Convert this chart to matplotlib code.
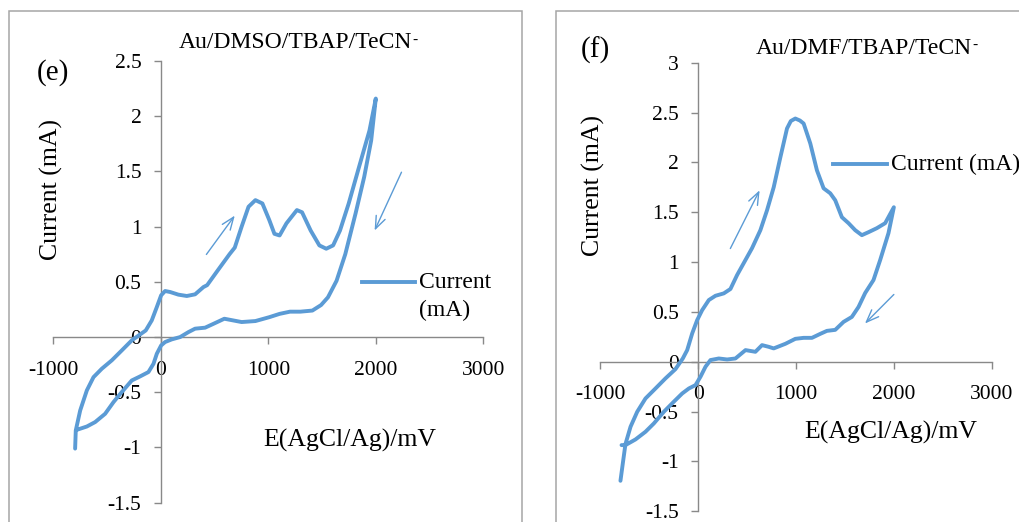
import matplotlib
matplotlib.use("Agg")
import matplotlib.pyplot as plt
from matplotlib.lines import Line2D
from matplotlib.patches import Rectangle
from matplotlib.ticker import FuncFormatter, MultipleLocator

plt.rcParams['font.family'] = ['Liberation Serif', 'DejaVu Serif']
plt.rcParams['axes.unicode_minus'] = False

# ---------------- data ----------------
series_label = "Current (mA)"
x_label = "E(AgCl/Ag)/mV"
y_label = "Current (mA)"

title_e = "Au/DMSO/TBAP/TeCN"
title_f = "Au/DMF/TBAP/TeCN"
title_sup = "-"
tag_e = "(e)"
tag_f = "(f)"

# panel (e): forward (upper) branch then return (lower) branch
e_fwd_x = [-797, -791, -750, -688, -626, -549, -456, -363, -270, -192, -140, -84, -37, 3, 40, 87,
           164, 242, 319, 397, 431, 527, 639, 688, 752, 816, 880, 945, 1009, 1057, 1105, 1169,
           1266, 1314, 1394, 1475, 1539, 1603, 1667, 1748, 1844, 1941, 2000]
e_fwd_y = [-1.01, -0.846, -0.665, -0.483, -0.363, -0.287, -0.211, -0.121, -0.03, 0.024, 0.06, 0.151,
           0.272, 0.378, 0.417, 0.408, 0.384, 0.372, 0.387, 0.453, 0.47, 0.60, 0.75, 0.81, 1.0,
           1.18, 1.24, 1.21, 1.06, 0.935, 0.92, 1.03, 1.15, 1.13, 0.965, 0.83, 0.80, 0.83, 0.965,
           1.21, 1.54, 1.87, 2.16]
e_rev_x = [1957, 1892, 1812, 1716, 1635, 1555, 1491, 1410, 1298, 1202, 1105, 1009, 880, 752, 591,
           490, 412, 319, 257, 180, 102, 40, 3, -37, -68, -115, -192, -270, -363, -440, -518, -611,
           -688, -781]
e_rev_y = [1.78, 1.45, 1.12, 0.75, 0.51, 0.36, 0.29, 0.24, 0.23, 0.23, 0.21, 0.18, 0.145, 0.136,
           0.166, 0.12, 0.085, 0.076, 0.045, 0.0, -0.021, -0.045, -0.076, -0.151, -0.242, -0.317,
           -0.356, -0.393, -0.498, -0.589, -0.695, -0.770, -0.810, -0.840]

# panel (f)
f_fwd_x = [-794, -770, -743, -691, -623, -538, -436, -334, -232, -157, -112, -61, -10, 41, 109, 177,
           262, 330, 398, 466, 551, 636, 704, 772, 840, 908, 947, 993, 1040, 1078, 1146, 1214, 1282,
           1350, 1401, 1469, 1537, 1605, 1673, 1741, 1826, 1911, 2000]
f_fwd_y = [-1.194, -1.02, -0.826, -0.652, -0.502, -0.368, -0.268, -0.167, -0.074, 0.033, 0.117,
           0.284, 0.418, 0.518, 0.619, 0.662, 0.686, 0.73, 0.87, 0.99, 1.14, 1.32, 1.52, 1.75, 2.05,
           2.34, 2.415, 2.44, 2.42, 2.39, 2.19, 1.92, 1.74, 1.69, 1.62, 1.45, 1.39, 1.32, 1.27,
           1.30, 1.34, 1.39, 1.55]
f_rev_x = [1945, 1860, 1792, 1707, 1639, 1571, 1486, 1401, 1316, 1248, 1163, 1078, 993, 891, 772,
           721, 653, 585, 484, 381, 296, 211, 126, 75, 24, -27, -95, -163, -249, -351, -453, -538,
           -640, -743, -783]
f_rev_y = [1.29, 1.02, 0.82, 0.69, 0.55, 0.45, 0.40, 0.32, 0.31, 0.28, 0.24, 0.24, 0.23, 0.18,
           0.134, 0.15, 0.167, 0.10, 0.117, 0.033, 0.023, 0.033, 0.017, -0.05, -0.15, -0.234,
           -0.268, -0.318, -0.401, -0.502, -0.619, -0.702, -0.779, -0.836, -0.836]

# direction arrows (tail -> head), data coordinates
e_arrows = [((424, 0.748), (688, 1.10)), ((2239, 1.493), (1989, 0.965))]
f_arrows = [((329, 1.136), (628, 1.72)), ((2000, 0.675), (1705, 0.384))]

x_ticks = [-1000, 0, 1000, 2000, 3000]
e_ylim = (-1.5, 2.5)
f_ylim = (-1.5, 3.0)

# ---------------- style ----------------
BLUE = '#5B9BD5'
AXC = '#898989'
W, H = 1019, 522


def fx(px):
    return px / W


def fy(py):
    return 1 - py / H


fig = plt.figure(figsize=(W / 100, H / 100), dpi=100)

# chart frames
fig.add_artist(Rectangle((fx(9), -0.05), fx(522.3) - fx(9), fy(11) + 0.05,
                         transform=fig.transFigure, fill=False, ec='#a6a6a6', lw=1.1))
fig.add_artist(Rectangle((fx(556), -0.05), 0.6, fy(11) + 0.05,
                         transform=fig.transFigure, fill=False, ec='#a6a6a6', lw=1.1))


def setup(ax, ylim):
    ax.set_xlim(-1000, 3000)
    ax.set_ylim(*ylim)
    ax.set_xticks(x_ticks)
    ax.yaxis.set_major_locator(MultipleLocator(0.5))
    ax.yaxis.set_major_formatter(FuncFormatter(lambda v, p: f"{v:g}"))
    ax.xaxis.set_major_formatter(FuncFormatter(lambda v, p: f"{v:g}"))
    for s in ['top', 'right']:
        ax.spines[s].set_visible(False)
    ax.spines['left'].set_position(('data', 0))
    ax.spines['bottom'].set_position(('data', 0))
    for s in ['left', 'bottom']:
        ax.spines[s].set_color(AXC)
        ax.spines[s].set_linewidth(1.0)
    ax.tick_params(axis='both', direction='out', length=5, width=1, color=AXC,
                   labelsize=15.5, labelcolor='black')
    ax.tick_params(axis='y', pad=9)
    ax.tick_params(axis='x', pad=12)
    ax.patch.set_alpha(0)


def draw_panel(ax, xs, ys, arrows):
    ax.plot(xs, ys, color=BLUE, lw=2.8, zorder=3,
            solid_joinstyle='round', solid_capstyle='round', clip_on=False)
    for tail, head in arrows:
        ax.annotate('', xy=head, xytext=tail,
                    arrowprops=dict(arrowstyle='->,head_length=0.9,head_width=0.35',
                                    color=BLUE, lw=1.0, shrinkA=0, shrinkB=0))


ax1 = fig.add_axes([fx(53.3), fy(502.7), (483.3 - 53.3) / W, (502.7 - 61) / H])
setup(ax1, e_ylim)
draw_panel(ax1, e_fwd_x + e_rev_x, e_fwd_y + e_rev_y, e_arrows)

ax2 = fig.add_axes([fx(600.3), fy(511.3), (991.7 - 600.3) / W, (511.3 - 62.7) / H])
setup(ax2, f_ylim)
draw_panel(ax2, f_fwd_x + f_rev_x, f_fwd_y + f_rev_y, f_arrows)

# texts (left panel)
t_e = fig.text(fx(295), fy(43), title_e, fontsize=17, ha='center', va='center')
fig.text(fx(52.5), fy(73), tag_e, fontsize=21, ha='center', va='center')
fig.text(fx(51), fy(190), y_label, fontsize=18.5, rotation=90, ha='center', va='center')
fig.text(fx(350), fy(440), x_label, fontsize=18.5, ha='center', va='center')
fig.add_artist(Line2D([fx(361.7), fx(415)], [fy(282.3), fy(282.3)], transform=fig.transFigure,
                      color=BLUE, lw=2.8))
lab_parts = series_label.split(" ")
fig.text(fx(419.3), fy(282.3), lab_parts[0], fontsize=17, ha='left', va='center')
fig.text(fx(419.3), fy(310.5), lab_parts[1], fontsize=17, ha='left', va='center')

# texts (right panel)
t_f = fig.text(fx(864), fy(48), title_f, fontsize=17, ha='center', va='center')
fig.text(fx(595), fy(50), tag_f, fontsize=21, ha='center', va='center')
fig.text(fx(593), fy(186), y_label, fontsize=18.5, rotation=90, ha='center', va='center')
fig.text(fx(891), fy(432), x_label, fontsize=18.5, ha='center', va='center')
fig.add_artist(Line2D([fx(833), fx(887)], [fy(164), fy(164)], transform=fig.transFigure,
                      color=BLUE, lw=2.8))
fig.text(fx(890.7), fy(164), series_label, fontsize=17, ha='left', va='center')

# small superscript hyphen after each title
fig.canvas.draw()
r = fig.canvas.get_renderer()
for t in (t_e, t_f):
    bb = t.get_window_extent(r)
    fig.text((bb.x1 + 0.5) / W, (bb.y1 - 1) / H, title_sup, fontsize=11, ha='left', va='top')

fig.savefig("out.png", dpi=100)
